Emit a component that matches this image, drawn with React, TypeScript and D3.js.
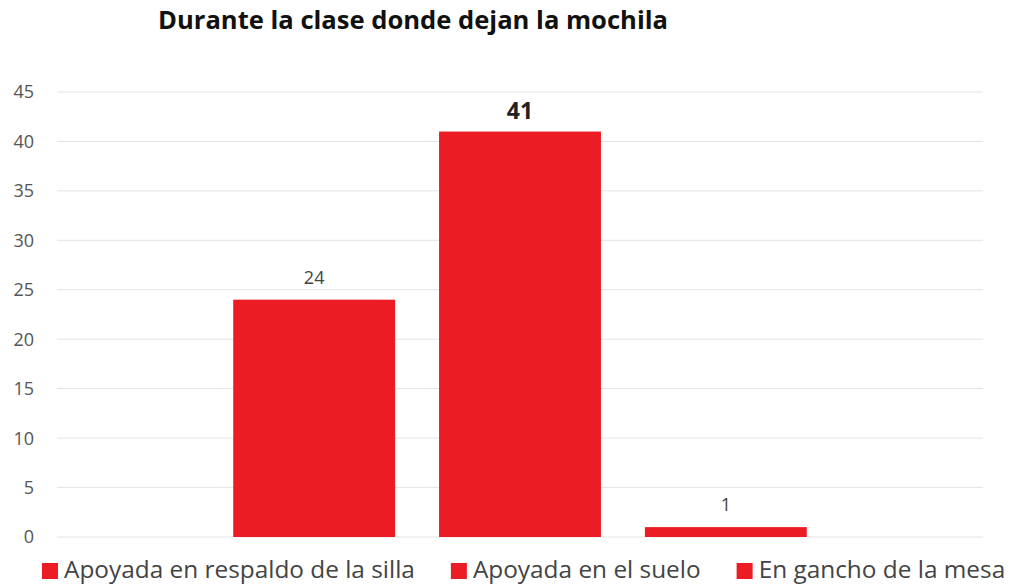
import React, { useEffect, useRef } from "react";
import * as d3 from "d3";

const categories = ["Apoyada en respaldo de la silla", "Apoyada en el suelo", "En gancho de la mesa"];
const values = [24, 41, 1];
const yTicks = [0, 5, 10, 15, 20, 25, 30, 35, 40, 45];
const title = "Durante la clase donde dejan la mochila";

const W = 1011;
const H = 586;
const FONT = "'Open Sans', Lato, sans-serif";
const RED = "#ec1c24";

export default function App() {
  const ref = useRef<SVGSVGElement>(null);

  useEffect(() => {
    const svg = d3.select(ref.current);
    svg.selectAll("*").remove();

    const plotLeft = 57, plotRight = 983, plotTop = 92, plotBottom = 537;
    const y = d3.scaleLinear().domain([0, 45]).range([plotBottom, plotTop]);
    const x = d3.scaleBand<string>().domain(categories).range([plotLeft, plotRight])
      .paddingInner(0.2136).paddingOuter(0.856);

    svg.append("rect").attr("width", W).attr("height", H).attr("fill", "#fff");

    const tt = svg.append("text").attr("x", 413).attr("y", 29).attr("text-anchor", "middle")
      .attr("font-family", FONT).attr("font-weight", "bold").attr("font-size", 24).attr("fill", "#111")
      .text(title);
    const tw = (tt.node() as SVGTextElement).getComputedTextLength();
    if (tw > 0) tt.attr("font-size", Math.min(28, 24 * 510 / tw));

    const g = svg.append("g");
    g.selectAll("line.grid").data(yTicks).join("line")
      .attr("x1", plotLeft).attr("x2", plotRight)
      .attr("y1", (d) => y(d)).attr("y2", (d) => y(d))
      .attr("stroke", "#e4e4e4").attr("stroke-width", 1);

    g.selectAll("text.tick").data(yTicks).join("text")
      .attr("x", 34).attr("y", (d) => y(d)).attr("dy", "0.36em").attr("text-anchor", "end")
      .attr("font-family", FONT).attr("font-size", 18).attr("fill", "#555")
      .text((d) => String(d));

    g.selectAll("rect.bar").data(values).join("rect")
      .attr("x", (_, i) => x(categories[i])!)
      .attr("width", x.bandwidth())
      .attr("y", (d) => y(d))
      .attr("height", (d) => plotBottom - y(d))
      .attr("fill", RED);

    g.selectAll("text.lbl").data(values).join("text")
      .attr("x", (_, i) => x(categories[i])! + x.bandwidth() / 2)
      .attr("y", (d) => y(d) - (d === 41 ? 13 : 16))
      .attr("text-anchor", "middle")
      .attr("font-family", FONT)
      .attr("font-weight", (d) => (d === 41 ? "bold" : "normal"))
      .attr("font-size", (d) => (d === 41 ? 23 : 18))
      .attr("fill", (d) => (d === 41 ? "#222" : "#444"))
      .text((d) => String(d));

    // legend
    const leg = svg.append("g");
    let lx = 42;
    let fs = 22;
    const probe = leg.append("text").attr("font-family", FONT).attr("font-size", 22).text(categories[0]);
    const pw = (probe.node() as SVGTextElement).getComputedTextLength();
    probe.remove();
    if (pw > 0) fs = Math.max(20, Math.min(25, 22 * 351 / pw));
    categories.forEach((c) => {
      leg.append("rect").attr("x", lx).attr("y", 563).attr("width", 16).attr("height", 16).attr("fill", RED);
      const t = leg.append("text").attr("x", lx + 22).attr("y", 578)
        .attr("font-family", FONT).attr("font-size", fs).attr("fill", "#444").text(c);
      const w = (t.node() as SVGTextElement).getComputedTextLength();
      lx = lx + 22 + w + 36;
    });
  }, []);

  return <svg ref={ref} width={W} height={H} style={{ display: "block", position: "absolute", left: 0, top: 0 }} />;
}
